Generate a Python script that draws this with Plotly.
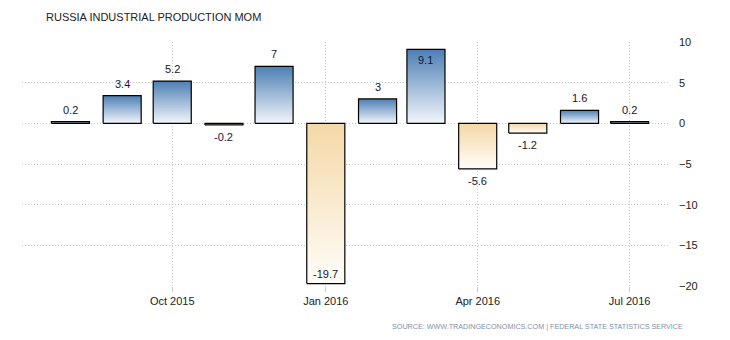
import plotly.graph_objects as go
import pandas as pd

months = ["2015-08-01", "2015-09-01", "2015-10-01", "2015-11-01", "2015-12-01", "2016-01-01",
          "2016-02-01", "2016-03-01", "2016-04-01", "2016-05-01", "2016-06-01", "2016-07-01"]
values = [0.2, 3.4, 5.2, -0.2, 7, -19.7, 3, 9.1, -5.6, -1.2, 1.6, 0.2]
labels = ["0.2", "3.4", "5.2", "-0.2", "7", "-19.7", "3", "9.1", "-5.6", "-1.2", "1.6", "0.2"]
xtick_vals = ["2015-10-01", "2016-01-01", "2016-04-01", "2016-07-01"]
xtick_text = ["Oct 2015", "Jan 2016", "Apr 2016", "Jul 2016"]
ytick_vals = [-20, -15, -10, -5, 0, 5, 10]

BLUE_TOP = "#4c7fb4"
BLUE_BOT = "#f3f6fb"
ORANGE_TOP = "#f4d8a6"
ORANGE_BOT = "#fffdf9"
half_width = pd.Timedelta(days=11.4)

fig = go.Figure()
annotations = []
for m, v, lab in zip(months, values, labels):
    d = pd.Timestamp(m)
    x0, x1 = d - half_width, d + half_width
    lo, hi = min(0, v), max(0, v)
    top_col = BLUE_TOP if v >= 0 else ORANGE_TOP
    bot_col = BLUE_BOT if v >= 0 else ORANGE_BOT
    fig.add_trace(go.Scatter(
        x=[x0, x0, x1, x1, x0], y=[lo, hi, hi, lo, lo],
        mode="lines", fill="toself",
        fillgradient=dict(type="vertical", colorscale=[[0, bot_col], [1, top_col]],
                          start=lo, stop=hi),
        line=dict(color="#000000", width=1.2),
        hoverinfo="skip", showlegend=False,
    ))
    if v >= 0:
        shift = 12 if v < 8.5 else -11
    else:
        shift = -12 if v > -18 else 10
    annotations.append(dict(x=d, y=v, text=lab, showarrow=False, yshift=shift,
                            font=dict(size=11, color="#14143a", family="Liberation Sans")))

annotations.append(dict(text="RUSSIA INDUSTRIAL PRODUCTION MOM", xref="paper", yref="paper",
                        x=(44 - 22) / 646, y=1 + (42 - 17) / 244, xanchor="left", yanchor="middle",
                        showarrow=False, font=dict(size=11, color="#222222", family="Liberation Sans")))
annotations.append(dict(text="SOURCE: WWW.TRADINGECONOMICS.COM | FEDERAL STATE STATISTICS SERVICE",
                        xref="paper", yref="paper", x=(685 - 22) / 646, y=-(326 - 286) / 244,
                        xanchor="right", yanchor="middle", showarrow=False,
                        font=dict(size=7.2, color="#7f90a8", family="Liberation Sans")))

grid = dict(showgrid=True, gridcolor="#c8c8c8", griddash="1px,2px", gridwidth=1)

fig.update_layout(
    width=730, height=340,
    margin=dict(l=22, r=62, t=42, b=54),
    plot_bgcolor="white", paper_bgcolor="white",
    annotations=annotations,
    xaxis=dict(type="date", range=["2015-07-03", "2016-07-24"],
               tickvals=xtick_vals, ticktext=xtick_text,
               zeroline=False, showline=False,
               ticks="outside", ticklen=5, tickcolor="#cccccc",
               tickfont=dict(size=11, color="#222222", family="Liberation Sans"), **grid),
    yaxis=dict(side="right", range=[-20, 10], tickvals=ytick_vals,
               zeroline=False, showline=False, ticks="", ticklabelstandoff=10,
               tickfont=dict(size=11, color="#222222", family="Liberation Sans"), **grid),
)

fig.write_html("out.html")
